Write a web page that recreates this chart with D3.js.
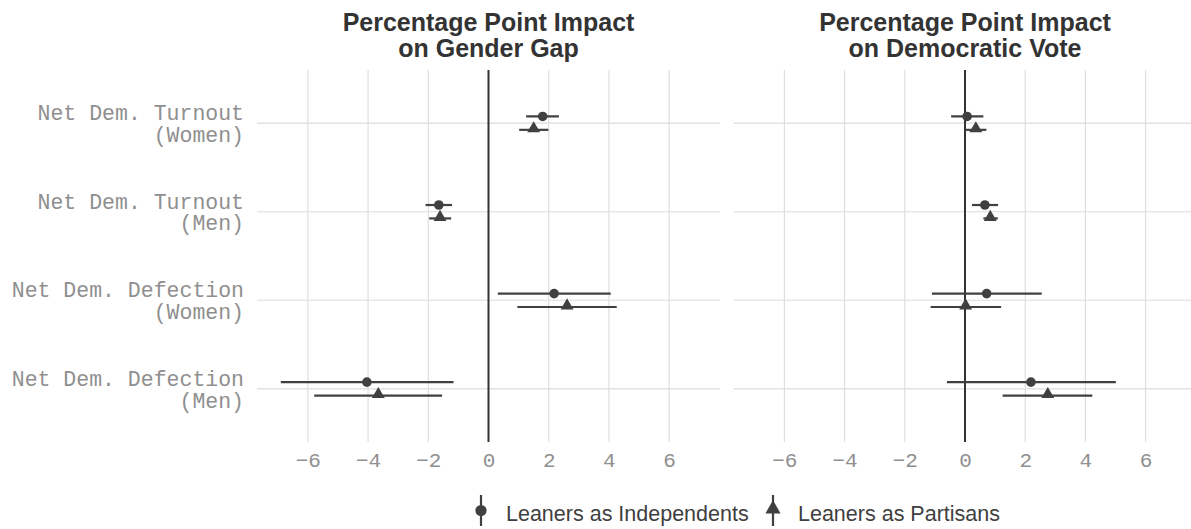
<!DOCTYPE html>
<html><head><meta charset="utf-8">
<script src="https://cdn.jsdelivr.net/npm/d3@7"></script>
<style>body{margin:0;background:#fff;}svg{display:block;}</style>
</head><body>
<svg id="chart" width="1191" height="529"></svg>
<script>
// ---- data ----
const categories = ["Net Dem. Turnout|(Women)", "Net Dem. Turnout|(Men)", "Net Dem. Defection|(Women)", "Net Dem. Defection|(Men)"];
const panelTitles = [["Percentage Point Impact", "on Gender Gap"], ["Percentage Point Impact", "on Democratic Vote"]];
const seriesNames = ["Leaners as Independents", "Leaners as Partisans"];
const xTicks = [-6, -4, -2, 0, 2, 4, 6];

// Panel 1: gender gap
const gapIndepEst = [1.80, -1.65, 2.18, -4.04];
const gapIndepLo  = [1.25, -2.09, 0.31, -6.90];
const gapIndepHi  = [2.34, -1.21, 4.06, -1.16];
const gapPartEst  = [1.50, -1.61, 2.61, -3.66];
const gapPartLo   = [1.02, -1.97, 0.96, -5.79];
const gapPartHi   = [1.99, -1.24, 4.26, -1.54];
// Panel 2: democratic vote
const voteIndepEst = [0.07, 0.66, 0.72, 2.19];
const voteIndepLo  = [-0.46, 0.23, -1.10, -0.60];
const voteIndepHi  = [0.61, 1.10, 2.55, 5.01];
const votePartEst  = [0.36, 0.84, 0.02, 2.75];
const votePartLo   = [0.01, 0.61, -1.14, 1.25];
const votePartHi   = [0.71, 1.09, 1.20, 4.23];

const panels = [
  {title: panelTitles[0], series: [
    {name: seriesNames[0], shape: "circle", est: gapIndepEst, lo: gapIndepLo, hi: gapIndepHi},
    {name: seriesNames[1], shape: "triangle", est: gapPartEst, lo: gapPartLo, hi: gapPartHi}]},
  {title: panelTitles[1], series: [
    {name: seriesNames[0], shape: "circle", est: voteIndepEst, lo: voteIndepLo, hi: voteIndepHi},
    {name: seriesNames[1], shape: "triangle", est: votePartEst, lo: votePartLo, hi: votePartHi}]}
];

// ---- layout ----
const svg = d3.select("#chart");
const markColor = "#404040";
const gridColor = "#dcdcdc";
const plotTop = 70, plotBottom = 442;
const panelX = [[257, 720], [733.5, 1196.5]];
const dodge = 6.7;

const y = d3.scalePoint().domain(categories).range([plotTop, plotBottom]).padding(0.6);

const sym = {
  circle: d3.symbol().type(d3.symbolCircle).size(Math.PI * 4.8 * 4.8),
  triangle: d3.symbol().type(d3.symbolTriangle).size(72)
};
const legSym = {
  circle: d3.symbol().type(d3.symbolCircle).size(Math.PI * 5.6 * 5.6),
  triangle: d3.symbol().type(d3.symbolTriangle).size(100)
};

panels.forEach((p, pi) => {
  const x = d3.scaleLinear().domain([-7.69, 7.69]).range(panelX[pi]);
  const g = svg.append("g");
  // gridlines
  g.selectAll("line.vg").data(xTicks).join("line")
    .attr("x1", d => x(d)).attr("x2", d => x(d))
    .attr("y1", plotTop).attr("y2", plotBottom)
    .attr("stroke", gridColor).attr("stroke-width", 1.1);
  g.selectAll("line.hg").data(categories).join("line")
    .attr("x1", panelX[pi][0]).attr("x2", panelX[pi][1])
    .attr("y1", d => y(d)).attr("y2", d => y(d))
    .attr("stroke", gridColor).attr("stroke-width", 1.1);
  // zero line
  g.append("line").attr("x1", x(0)).attr("x2", x(0)).attr("y1", plotTop).attr("y2", plotBottom)
    .attr("stroke", "#333").attr("stroke-width", 2);
  // x axis labels
  const ax = d3.axisBottom(x).tickValues(xTicks).tickSize(0).tickPadding(0)
    .tickFormat(d => d < 0 ? "\u2212" + Math.abs(d) : String(d));
  const axg = g.append("g").attr("transform", `translate(0,${plotBottom})`).call(ax);
  axg.select(".domain").remove();
  axg.selectAll("text")
    .attr("y", 10).attr("dy", "0.72em")
    .attr("fill", "#8f8f8f")
    .style("font-family", "'Liberation Mono','Courier New',monospace")
    .style("font-size", "21px");
  // series
  p.series.forEach((s, si) => {
    const off = si === 0 ? -dodge : dodge;
    g.selectAll(null).data(categories).join("line")
      .attr("x1", (d, i) => x(s.lo[i])).attr("x2", (d, i) => x(s.hi[i]))
      .attr("y1", d => y(d) + off).attr("y2", d => y(d) + off)
      .attr("stroke", markColor).attr("stroke-width", 2.2);
    g.selectAll(null).data(categories).join("path")
      .attr("d", sym[s.shape])
      .attr("transform", (d, i) => `translate(${x(s.est[i])},${y(d) + off + (s.shape === "triangle" ? -1.2 : 0)})`)
      .attr("fill", markColor);
  });
  // title
  const cx = (panelX[pi][0] + panelX[pi][1]) / 2;
  p.title.forEach((t, ti) => {
    svg.append("text").attr("x", cx).attr("y", 31 + ti * 26)
      .attr("text-anchor", "middle").attr("fill", "#333")
      .style("font-family", "'Liberation Sans',Arial,sans-serif")
      .style("font-weight", "bold").style("font-size", "25px")
      .text(t);
  });
});

// y axis labels
const yl = svg.append("g");
categories.forEach(c => {
  const lines = c.split("|");
  lines.forEach((ln, li) => {
    yl.append("text").attr("x", 244).attr("y", y(c) - 10.5 + li * 21.7)
      .attr("dy", "0.35em").attr("text-anchor", "end")
      .attr("fill", "#8f8f8f")
      .style("font-family", "'Liberation Mono','Courier New',monospace")
      .style("font-size", "21.5px")
      .text(ln);
  });
});

// legend
const leg = svg.append("g");
const legItems = [{name: seriesNames[0], shape: "circle", sx: 481, tx: 506},
                  {name: seriesNames[1], shape: "triangle", sx: 773, tx: 798}];
legItems.forEach(it => {
  leg.append("line").attr("x1", it.sx).attr("x2", it.sx).attr("y1", 495).attr("y2", 526)
    .attr("stroke", markColor).attr("stroke-width", 2.2);
  leg.append("path").attr("d", legSym[it.shape]).attr("transform", `translate(${it.sx},${it.shape === "triangle" ? 509 : 510.5})`).attr("fill", markColor);
  leg.append("text").attr("x", it.tx).attr("y", 513).attr("dy", "0.35em")
    .attr("fill", "#404040")
    .style("font-family", "'Liberation Sans',Arial,sans-serif")
    .style("font-size", "21.5px")
    .text(it.name);
});
</script>
</body></html>
